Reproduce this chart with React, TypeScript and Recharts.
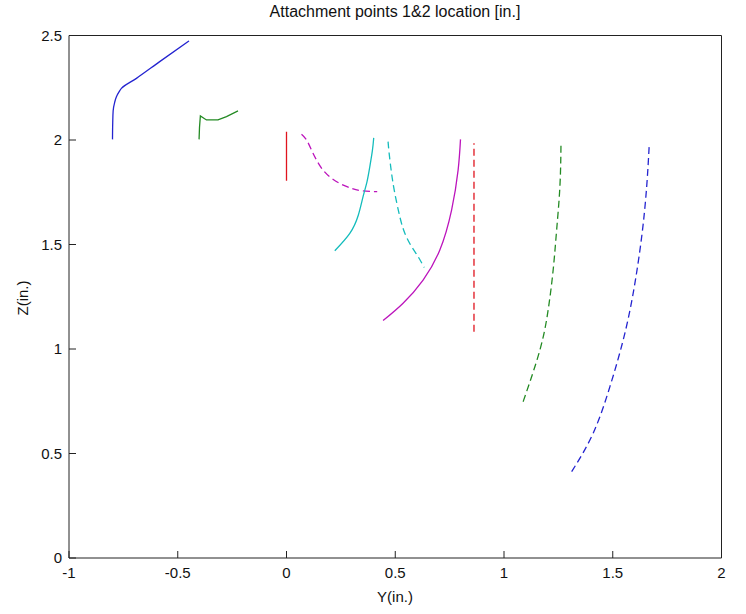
import { LineChart, Line, XAxis, YAxis } from 'recharts';

// Y / Z positions, one array per trace
const blueSolid = [
  { x: -0.8, y: 2.003 }, { x: -0.799, y: 2.08 }, { x: -0.797, y: 2.14 }, { x: -0.79, y: 2.18 },
  { x: -0.782, y: 2.207 }, { x: -0.77, y: 2.23 }, { x: -0.759, y: 2.247 }, { x: -0.69, y: 2.295 },
  { x: -0.583, y: 2.375 }, { x: -0.448, y: 2.474 },
];
const greenSolid = [
  { x: -0.402, y: 2.003 }, { x: -0.4, y: 2.06 }, { x: -0.396, y: 2.115 }, { x: -0.368, y: 2.096 },
  { x: -0.315, y: 2.096 }, { x: -0.276, y: 2.112 }, { x: -0.223, y: 2.139 },
];
const redSolid = [{ x: 0, y: 1.805 }, { x: 0, y: 2.04 }];
const magentaDashed = [
  { x: 0.069, y: 2.027 }, { x: 0.092, y: 2.0 }, { x: 0.115, y: 1.952 }, { x: 0.138, y: 1.904 },
  { x: 0.168, y: 1.856 }, { x: 0.207, y: 1.817 }, { x: 0.253, y: 1.788 }, { x: 0.299, y: 1.769 },
  { x: 0.345, y: 1.757 }, { x: 0.417, y: 1.753 },
];
const cyanSolid = [
  { x: 0.222, y: 1.47 }, { x: 0.291, y: 1.553 }, { x: 0.33, y: 1.64 }, { x: 0.352, y: 1.729 },
  { x: 0.37, y: 1.8 }, { x: 0.383, y: 1.872 }, { x: 0.395, y: 1.95 }, { x: 0.401, y: 2.01 },
];
const cyanDashed = [
  { x: 0.467, y: 1.992 }, { x: 0.472, y: 1.936 }, { x: 0.483, y: 1.841 }, { x: 0.498, y: 1.745 },
  { x: 0.521, y: 1.633 }, { x: 0.544, y: 1.554 }, { x: 0.575, y: 1.49 }, { x: 0.605, y: 1.442 },
  { x: 0.633, y: 1.39 },
];
const magentaSolid = [
  { x: 0.444, y: 1.136 }, { x: 0.536, y: 1.219 }, { x: 0.628, y: 1.33 }, { x: 0.705, y: 1.474 },
  { x: 0.759, y: 1.665 }, { x: 0.789, y: 1.856 }, { x: 0.8, y: 2.003 },
];
const redDashed = [{ x: 0.862, y: 1.083 }, { x: 0.862, y: 1.984 }];
const greenDashed = [
  { x: 1.088, y: 0.748 }, { x: 1.165, y: 0.995 }, { x: 1.203, y: 1.187 }, { x: 1.226, y: 1.378 },
  { x: 1.242, y: 1.569 }, { x: 1.257, y: 1.777 }, { x: 1.262, y: 1.981 },
];
const blueDashed = [
  { x: 1.311, y: 0.413 }, { x: 1.41, y: 0.597 }, { x: 1.487, y: 0.82 }, { x: 1.548, y: 1.043 },
  { x: 1.594, y: 1.267 }, { x: 1.633, y: 1.537 }, { x: 1.656, y: 1.777 }, { x: 1.668, y: 1.981 },
];

const xTicks = [-1, -0.5, 0, 0.5, 1, 1.5, 2];
const yTicks = [0, 0.5, 1, 1.5, 2, 2.5];

const traces = [
  { name: 'b-', data: blueSolid, color: '#2424d0', dash: undefined, curve: 'monotoneY' },
  { name: 'g-', data: greenSolid, color: '#238a23', dash: undefined, curve: 'linear' },
  { name: 'r-', data: redSolid, color: '#e0141e', dash: undefined, curve: 'linear' },
  { name: 'm--', data: magentaDashed, color: '#bc14bc', dash: '7 4', curve: 'natural' },
  { name: 'c-', data: cyanSolid, color: '#14bcbc', dash: undefined, curve: 'natural' },
  { name: 'c--', data: cyanDashed, color: '#14bcbc', dash: '7 4', curve: 'natural' },
  { name: 'm-', data: magentaSolid, color: '#bc14bc', dash: undefined, curve: 'natural' },
  { name: 'r--', data: redDashed, color: '#e0141e', dash: '7 4', curve: 'linear' },
  { name: 'g--', data: greenDashed, color: '#238a23', dash: '7 4', curve: 'natural' },
  { name: 'b--', data: blueDashed, color: '#2424d0', dash: '7 4', curve: 'natural' },
] as const;

const font = '"Liberation Sans", Arial, sans-serif';
const tickStyle = { fill: '#111', fontSize: 15, fontFamily: font };

export default function App() {
  return (
    <div style={{ position: 'absolute', left: 0, top: 0, width: 746, height: 614, background: '#fff' }}>
      <div style={{ position: 'absolute', left: 0, width: 790, top: 3, textAlign: 'center', fontFamily: font, fontSize: 16, color: '#111' }}>
        Attachment points 1&amp;2 location [in.]
      </div>
      <div style={{ position: 'absolute', left: 0, width: 790, top: 588, textAlign: 'center', fontFamily: font, fontSize: 15, color: '#111' }}>
        Y(in.)
      </div>
      <div
        style={{
          position: 'absolute', left: 22, top: 298, fontFamily: font, fontSize: 15, color: '#111',
          transform: 'translate(-50%, -50%) rotate(-90deg)', whiteSpace: 'nowrap',
        }}
      >
        Z(in.)
      </div>
      <LineChart width={746} height={614} margin={{ top: 5.5, right: 0, bottom: 26, left: 24 }}>
        <XAxis
          xAxisId="b" type="number" dataKey="x" domain={[-1, 2]} ticks={xTicks} allowDataOverflow
          tick={tickStyle} tickSize={-7} tickMargin={16} height={30} stroke="#222"
        />
        <XAxis
          xAxisId="t" orientation="top" type="number" dataKey="x" domain={[-1, 2]} ticks={xTicks}
          allowDataOverflow tick={false} tickSize={-7} height={30} stroke="#222"
        />
        <YAxis
          yAxisId="l" type="number" dataKey="y" domain={[0, 2.5]} ticks={yTicks} allowDataOverflow
          tick={tickStyle} tickSize={-7} tickMargin={14} width={45} stroke="#222"
        />
        <YAxis
          yAxisId="r" orientation="right" type="number" dataKey="y" domain={[0, 2.5]} ticks={yTicks}
          allowDataOverflow tick={false} tickSize={-7} width={24.5} stroke="#222"
        />
        {traces.map((t) => (
          <Line
            key={t.name}
            xAxisId="b"
            yAxisId="l"
            data={t.data as any}
            dataKey="y"
            type={t.curve as any}
            stroke={t.color}
            strokeWidth={1.3}
            strokeDasharray={t.dash}
            dot={false}
            activeDot={false}
            isAnimationActive={false}
          />
        ))}
      </LineChart>
    </div>
  );
}
